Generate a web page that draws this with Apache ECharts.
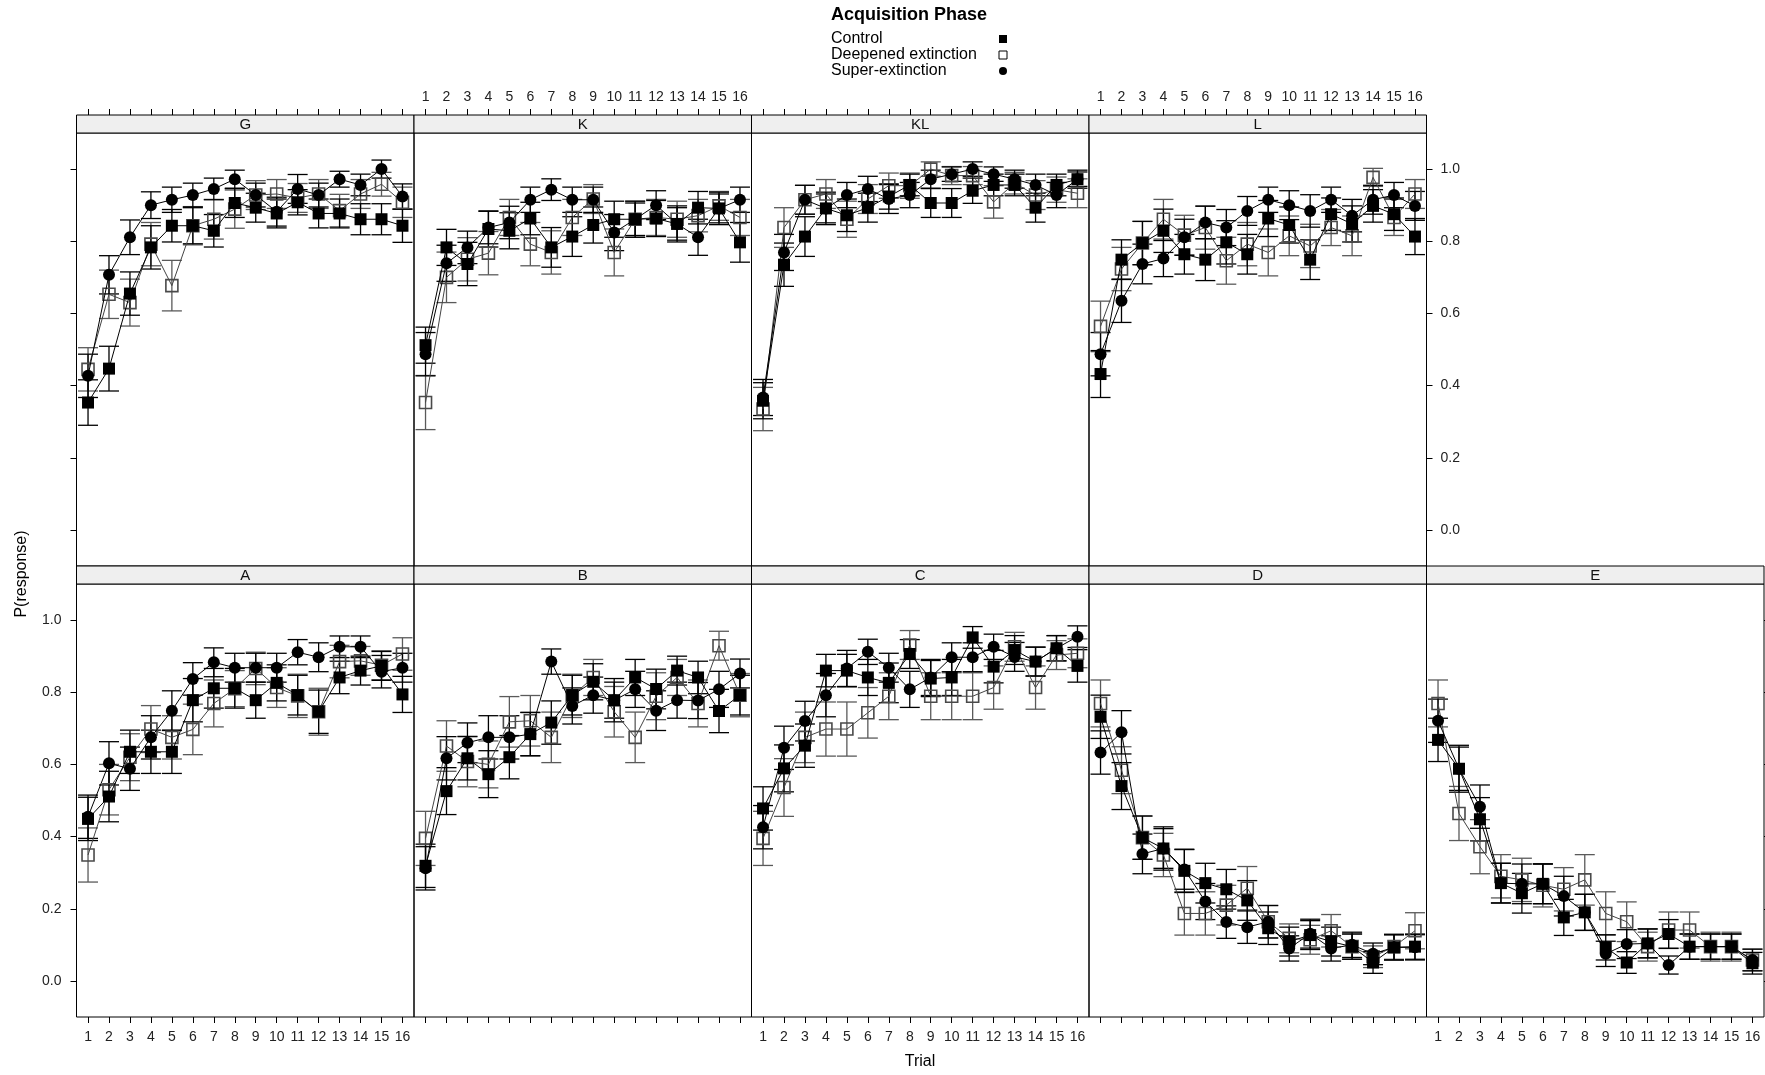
<!DOCTYPE html>
<html>
<head>
<meta charset="utf-8">
<script src="https://cdn.jsdelivr.net/npm/echarts@6/dist/echarts.min.js"></script>
<style>
html,body{margin:0;padding:0;background:#fff;}
#chart{width:1765px;height:1075px;}
</style>
</head>
<body>
<div id="chart"></div>
<script>
// ---------- DATA ----------
const trials = [1,2,3,4,5,6,7,8,9,10,11,12,13,14,15,16];
const yTicks = [0.0,0.2,0.4,0.6,0.8,1.0];
const panelNames = ['G','K','KL','L','A','B','C','D','E'];
const groupNames = ['Control','Deepened extinction','Super-extinction'];

const gCtrl = [0.353,0.447,0.655,0.783,0.843,0.843,0.829,0.906,0.893,0.877,0.908,0.877,0.877,0.861,0.861,0.843];
const gCtrlSe = [0.063,0.062,0.06,0.06,0.045,0.05,0.045,0.04,0.04,0.04,0.035,0.04,0.04,0.043,0.043,0.046];
const gDeep = [0.445,0.653,0.630,0.792,0.677,0.843,0.861,0.889,0.928,0.931,0.92,0.931,0.885,0.931,0.958,0.908];
const gDeepSe = [0.06,0.067,0.065,0.06,0.07,0.053,0.055,0.053,0.04,0.04,0.04,0.04,0.045,0.04,0.033,0.042];
const gSup = [0.427,0.707,0.811,0.900,0.915,0.928,0.945,0.972,0.928,0.882,0.945,0.928,0.972,0.956,1.0,0.924];
const gSupSe = [0.06,0.053,0.048,0.037,0.035,0.033,0.03,0.025,0.033,0.04,0.04,0.033,0.022,0.03,0.025,0.035];

const kCtrl = [0.512,0.783,0.737,0.834,0.829,0.863,0.783,0.813,0.845,0.861,0.861,0.863,0.848,0.893,0.891,0.797];
const kCtrlSe = [0.05,0.05,0.06,0.05,0.05,0.045,0.055,0.055,0.05,0.05,0.05,0.05,0.05,0.045,0.045,0.055];
const kDeep = [0.353,0.700,0.750,0.767,0.866,0.792,0.769,0.866,0.917,0.769,0.861,0.866,0.861,0.871,0.898,0.866];
const kDeepSe = [0.075,0.07,0.06,0.06,0.05,0.06,0.06,0.05,0.04,0.065,0.05,0.05,0.05,0.045,0.04,0.05];
const kSup = [0.487,0.739,0.783,0.838,0.852,0.915,0.943,0.915,0.915,0.824,0.861,0.900,0.848,0.811,0.891,0.915];
const kSupSe = [0.06,0.05,0.045,0.045,0.045,0.035,0.03,0.035,0.035,0.05,0.045,0.04,0.045,0.05,0.04,0.035];

const klCtrl = [0.358,0.735,0.813,0.891,0.872,0.893,0.924,0.956,0.906,0.906,0.940,0.956,0.956,0.893,0.956,0.972];
const klCtrlSe = [0.05,0.06,0.055,0.04,0.045,0.04,0.035,0.03,0.04,0.04,0.035,0.03,0.03,0.04,0.03,0.02];
const klDeep = [0.335,0.838,0.915,0.931,0.861,0.917,0.954,0.954,1.0,0.982,0.982,0.909,0.961,0.928,0.943,0.933];
const klDeepSe = [0.06,0.055,0.04,0.04,0.05,0.04,0.035,0.035,0.02,0.025,0.025,0.045,0.03,0.04,0.035,0.04];
const klSup = [0.367,0.769,0.915,0.891,0.928,0.945,0.917,0.928,0.972,0.986,1.0,0.986,0.972,0.956,0.928,0.972];
const klSupSe = [0.05,0.05,0.04,0.045,0.035,0.035,0.04,0.035,0.025,0.02,0.02,0.02,0.025,0.03,0.035,0.025];

const lCtrl = [0.432,0.749,0.795,0.829,0.764,0.749,0.797,0.764,0.863,0.845,0.749,0.875,0.848,0.898,0.875,0.813];
const lCtrlSe = [0.065,0.055,0.06,0.06,0.055,0.058,0.06,0.055,0.05,0.05,0.055,0.045,0.05,0.045,0.045,0.05];
const lDeep = [0.564,0.723,0.795,0.861,0.817,0.838,0.746,0.792,0.769,0.815,0.787,0.838,0.815,0.977,0.866,0.931];
const lDeepSe = [0.07,0.06,0.06,0.055,0.055,0.06,0.065,0.06,0.065,0.055,0.06,0.05,0.055,0.025,0.05,0.04];
const lSup = [0.487,0.635,0.737,0.752,0.811,0.852,0.838,0.884,0.915,0.900,0.884,0.915,0.871,0.915,0.928,0.898];
const lSupSe = [0.06,0.06,0.055,0.05,0.05,0.045,0.05,0.04,0.035,0.04,0.045,0.035,0.045,0.04,0.035,0.04];

const aCtrl = [0.449,0.511,0.635,0.635,0.635,0.778,0.811,0.811,0.778,0.826,0.792,0.746,0.841,0.860,0.873,0.794];
const aCtrlSe = [0.06,0.07,0.06,0.06,0.06,0.06,0.055,0.055,0.05,0.05,0.055,0.06,0.045,0.04,0.04,0.05];
const aDeep = [0.349,0.53,0.62,0.698,0.675,0.697,0.769,0.81,0.866,0.813,0.79,0.746,0.885,0.887,0.875,0.906];
const aDeepSe = [0.075,0.07,0.065,0.065,0.06,0.07,0.065,0.05,0.045,0.055,0.06,0.065,0.045,0.04,0.04,0.045];
const aSup = [0.455,0.603,0.588,0.675,0.749,0.837,0.883,0.868,0.868,0.868,0.911,0.897,0.926,0.926,0.857,0.868];
const aSupSe = [0.06,0.06,0.06,0.06,0.055,0.045,0.04,0.04,0.04,0.04,0.035,0.04,0.03,0.03,0.045,0.04];

const bCtrl = [0.319,0.526,0.617,0.573,0.620,0.684,0.716,0.792,0.829,0.778,0.841,0.809,0.860,0.841,0.748,0.792];
const bCtrlSe = [0.06,0.065,0.06,0.065,0.06,0.06,0.06,0.055,0.05,0.06,0.05,0.055,0.04,0.045,0.06,0.055];
const bDeep = [0.395,0.651,0.608,0.60,0.718,0.721,0.675,0.79,0.841,0.746,0.675,0.789,0.841,0.769,0.929,0.792];
const bDeepSe = [0.075,0.07,0.07,0.065,0.07,0.07,0.07,0.06,0.05,0.07,0.07,0.065,0.05,0.065,0.04,0.06];
const bSup = [0.312,0.617,0.660,0.675,0.675,0.684,0.885,0.762,0.792,0.778,0.808,0.749,0.778,0.777,0.808,0.852];
const bSupSe = [0.06,0.06,0.055,0.06,0.06,0.06,0.035,0.05,0.05,0.05,0.05,0.055,0.05,0.05,0.05,0.04];

const cCtrl = [0.478,0.589,0.652,0.860,0.860,0.841,0.826,0.906,0.838,0.841,0.952,0.871,0.917,0.885,0.922,0.873];
const cCtrlSe = [0.06,0.065,0.06,0.045,0.045,0.05,0.055,0.04,0.05,0.05,0.03,0.045,0.04,0.04,0.035,0.045];
const cDeep = [0.395,0.536,0.675,0.698,0.698,0.743,0.789,0.931,0.789,0.789,0.789,0.813,0.926,0.813,0.903,0.908];
const cDeepSe = [0.075,0.08,0.07,0.075,0.075,0.07,0.065,0.04,0.065,0.065,0.065,0.06,0.04,0.06,0.04,0.04];
const cSup = [0.426,0.646,0.720,0.792,0.866,0.912,0.868,0.808,0.841,0.897,0.897,0.926,0.898,0.885,0.922,0.954];
const cSupSe = [0.06,0.06,0.055,0.06,0.05,0.035,0.04,0.05,0.05,0.04,0.04,0.035,0.04,0.04,0.035,0.03];

const dCtrl = [0.732,0.540,0.397,0.367,0.305,0.271,0.254,0.223,0.146,0.109,0.127,0.109,0.095,0.051,0.093,0.095];
const dCtrlSe = [0.06,0.065,0.06,0.06,0.06,0.055,0.055,0.055,0.045,0.04,0.04,0.04,0.035,0.03,0.035,0.035];
const dDeep = [0.769,0.584,0.397,0.349,0.187,0.187,0.21,0.257,0.164,0.118,0.114,0.139,0.095,0.067,0.095,0.139];
const dDeepSe = [0.065,0.065,0.06,0.06,0.06,0.06,0.055,0.06,0.045,0.04,0.04,0.045,0.035,0.03,0.035,0.05];
const dSup = [0.633,0.689,0.352,0.367,0.309,0.220,0.163,0.149,0.164,0.090,0.131,0.090,0.100,0.075,0.093,0.093];
const dSupSe = [0.06,0.06,0.055,0.055,0.055,0.05,0.045,0.045,0.045,0.035,0.04,0.035,0.035,0.03,0.035,0.035];

const eCtrl = [0.668,0.588,0.448,0.271,0.243,0.269,0.176,0.190,0.093,0.051,0.104,0.130,0.095,0.095,0.095,0.049];
const eCtrlSe = [0.06,0.065,0.06,0.055,0.055,0.055,0.05,0.05,0.035,0.03,0.04,0.04,0.035,0.035,0.035,0.03];
const eDeep = [0.769,0.464,0.372,0.29,0.280,0.265,0.254,0.280,0.187,0.164,0.095,0.141,0.141,0.095,0.095,0.058];
const eDeepSe = [0.065,0.075,0.075,0.06,0.06,0.06,0.06,0.07,0.06,0.055,0.04,0.05,0.05,0.04,0.04,0.03];
const eSup = [0.721,0.588,0.483,0.271,0.269,0.269,0.235,0.190,0.075,0.102,0.104,0.044,0.095,0.095,0.095,0.058];
const eSupSe = [0.06,0.06,0.06,0.055,0.055,0.055,0.055,0.05,0.035,0.04,0.04,0.025,0.035,0.035,0.035,0.03];

const panelData = {
  G:  {ctrl:gCtrl, ctrlSe:gCtrlSe, deep:gDeep, deepSe:gDeepSe, sup:gSup, supSe:gSupSe},
  K:  {ctrl:kCtrl, ctrlSe:kCtrlSe, deep:kDeep, deepSe:kDeepSe, sup:kSup, supSe:kSupSe},
  KL: {ctrl:klCtrl, ctrlSe:klCtrlSe, deep:klDeep, deepSe:klDeepSe, sup:klSup, supSe:klSupSe},
  L:  {ctrl:lCtrl, ctrlSe:lCtrlSe, deep:lDeep, deepSe:lDeepSe, sup:lSup, supSe:lSupSe},
  A:  {ctrl:aCtrl, ctrlSe:aCtrlSe, deep:aDeep, deepSe:aDeepSe, sup:aSup, supSe:aSupSe},
  B:  {ctrl:bCtrl, ctrlSe:bCtrlSe, deep:bDeep, deepSe:bDeepSe, sup:bSup, supSe:bSupSe},
  C:  {ctrl:cCtrl, ctrlSe:cCtrlSe, deep:cDeep, deepSe:cDeepSe, sup:cSup, supSe:cSupSe},
  D:  {ctrl:dCtrl, ctrlSe:dCtrlSe, deep:dDeep, deepSe:dDeepSe, sup:dSup, supSe:dSupSe},
  E:  {ctrl:eCtrl, ctrlSe:eCtrlSe, deep:eDeep, deepSe:eDeepSe, sup:eSup, supSe:eSupSe}
};

// ---------- LAYOUT ----------
const FONT = "'Liberation Sans', Arial, Helvetica, sans-serif";
const COL_LEFT = 76.5, COL_W = 337.5, STRIP_H = 18;
const ROWS = [{plotTop:133, plotH:433}, {plotTop:584, plotH:433}];
const panelRC = {G:[0,0],K:[0,1],KL:[0,2],L:[0,3],A:[1,0],B:[1,1],C:[1,2],D:[1,3],E:[1,4]};
const axisSpec = {
  G:{x:'top',xLab:false,y:'left',yLab:false},
  K:{x:'top',xLab:true,y:null},
  KL:{x:'top',xLab:false,y:null},
  L:{x:'top',xLab:true,y:'right',yLab:true},
  A:{x:'bottom',xLab:true,y:'left',yLab:true},
  B:{x:'bottom',xLab:false,y:null},
  C:{x:'bottom',xLab:true,y:null},
  D:{x:'bottom',xLab:false,y:null},
  E:{x:'bottom',xLab:true,y:'right',yLab:false}
};
const styleDef = {
  ctrl:{name:'Control', symbol:'rect', size:12, fill:'#000', border:'#000', bw:0, line:'#000', bar:'#000', z:4},
  deep:{name:'Deepened extinction', symbol:'rect', size:12, fill:'rgba(0,0,0,0)', border:'#4a4a4a', bw:1.6, line:'#444', bar:'#5a5a5a', z:3},
  sup:{name:'Super-extinction', symbol:'circle', size:12, fill:'#000', border:'#000', bw:0, line:'#000', bar:'#000', z:5}
};

function errRender(color){
  return function(params, api){
    const x = api.value(0), lo = api.value(1), hi = api.value(2);
    const p1 = api.coord([x, lo]), p2 = api.coord([x, hi]);
    const cw = 10;
    const st = {stroke:color, lineWidth:1.3};
    return {type:'group', children:[
      {type:'line', shape:{x1:p1[0],y1:p1[1],x2:p2[0],y2:p2[1]}, style:st},
      {type:'line', shape:{x1:p1[0]-cw,y1:p1[1],x2:p1[0]+cw,y2:p1[1]}, style:st},
      {type:'line', shape:{x1:p2[0]-cw,y1:p2[1],x2:p2[0]+cw,y2:p2[1]}, style:st}
    ]};
  };
}

const grids = [], xAxes = [], yAxes = [], series = [], graphics = [];
const tickStyle = {color:'#000', width:1};
const labelStyle = {fontSize:14, color:'#222', fontFamily:FONT};

panelNames.forEach((p, i) => {
  const [r, c] = panelRC[p];
  const row = ROWS[r];
  const left = COL_LEFT + c*COL_W;
  grids.push({left:left, top:row.plotTop, width:COL_W, height:row.plotH, show:true,
    borderColor:'#000', borderWidth:1, backgroundColor:'transparent'});
  const sp = axisSpec[p];
  xAxes.push({type:'value', gridIndex:i, min:0.45, max:16.55, position:sp.x,
    offset: sp.x==='top' ? STRIP_H : 0,
    axisLine:{show:false, onZero:false},
    axisTick:{show:true, length:6, customValues:trials, lineStyle:tickStyle},
    axisLabel:Object.assign({show:sp.xLab, customValues:trials, margin: sp.x==='top'?11:13}, labelStyle),
    splitLine:{show:false}});
  yAxes.push({type:'value', gridIndex:i, min:-0.1, max:1.1, position:sp.y||'left',
    axisLine:{show:false, onZero:false},
    axisTick:{show:!!sp.y, length:6, customValues:yTicks, lineStyle:tickStyle},
    axisLabel:Object.assign({show:!!sp.yLab, customValues:yTicks, margin: sp.y==='right'?14:15,
      formatter:(v)=>Number(v).toFixed(1)}, labelStyle),
    splitLine:{show:false}});
  // strip
  graphics.push({type:'rect', shape:{x:left, y:row.plotTop-STRIP_H, width:COL_W, height:STRIP_H},
    style:{fill:'#efefef', stroke:'#000', lineWidth:1}, z:10});
  graphics.push({type:'text', x:left+COL_W/2, y:row.plotTop-STRIP_H/2+1,
    style:{text:p, textAlign:'center', textVerticalAlign:'middle', fontSize:15, fontFamily:FONT, fill:'#111'}, z:11});

  const d = panelData[p];
  const order = ['deep','ctrl','sup'];
  order.forEach(key => {
    const s = styleDef[key];
    const vals = d[key], se = d[key+'Se'];
    series.push({type:'custom', name:s.name+' SE', xAxisIndex:i, yAxisIndex:i, silent:true, z:1,
      renderItem:errRender(s.bar), clip:false,
      data: trials.map((t,k)=>[t, vals[k]-se[k], vals[k]+se[k]]),
      encode:{x:0, y:[1,2]}});
  });
  order.forEach(key => {
    const s = styleDef[key];
    const vals = d[key];
    series.push({type:'line', name:s.name, xAxisIndex:i, yAxisIndex:i, silent:true, z:s.z,
      data: trials.map((t,k)=>[t, vals[k]]),
      symbol:s.symbol, symbolSize:s.size, showSymbol:true,
      lineStyle:{color:s.line, width:1},
      itemStyle:{color:s.fill, borderColor:s.border, borderWidth:s.bw},
      emphasis:{disabled:true}});
  });
});

graphics.push({type:'text', x:909, y:15, style:{text:'Acquisition Phase', textAlign:'center', textVerticalAlign:'middle',
  fontSize:18, fontWeight:'bold', fontFamily:FONT, fill:'#000'}});
graphics.push({type:'text', x:920, y:1062, style:{text:'Trial', textAlign:'center', textVerticalAlign:'middle',
  fontSize:16, fontFamily:FONT, fill:'#000'}});
graphics.push({type:'text', x:22, y:574, rotation:Math.PI/2, style:{text:'P(response)', textAlign:'center', textVerticalAlign:'middle',
  fontSize:16, fontFamily:FONT, fill:'#000'}});

const chart = echarts.init(document.getElementById('chart'), null, {renderer:'canvas'});
chart.setOption({
  backgroundColor:'#fff',
  animation:false,
  textStyle:{fontFamily:FONT},
  legend:{left:826, top:26, orient:'vertical', align:'right', itemWidth:8, itemHeight:8, itemGap:0,
    selectedMode:false,
    formatter:(name)=>'{a|' + name + '}',
    textStyle:{fontSize:16, lineHeight:16, color:'#000', fontFamily:FONT,
      rich:{a:{width:163, align:'left', fontSize:16, lineHeight:16, color:'#000', fontFamily:FONT}}},
    data:[
      {name:'Control', icon:'rect', itemStyle:{color:'#000', borderWidth:0}},
      {name:'Deepened extinction', icon:'rect', itemStyle:{color:'#fff', borderColor:'#000', borderWidth:1}},
      {name:'Super-extinction', icon:'circle', itemStyle:{color:'#000', borderWidth:0}}
    ]},
  grid:grids, xAxis:xAxes, yAxis:yAxes, series:series, graphic:graphics
});
</script>
</body>
</html>
